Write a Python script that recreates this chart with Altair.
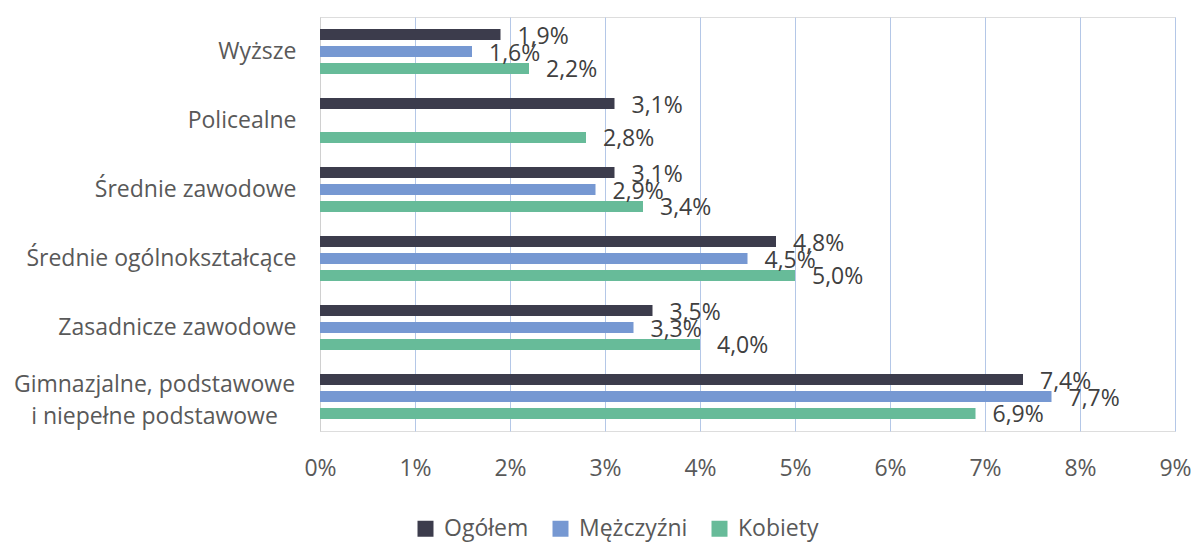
import altair as alt
import pandas as pd

categories = ["Wyższe", "Policealne", "Średnie zawodowe", "Średnie ogólnokształcące",
              "Zasadnicze zawodowe", "Gimnazjalne, podstawowe i niepełne podstawowe"]
series = ["Ogółem", "Mężczyźni", "Kobiety"]
ogolem = [1.9, 3.1, 3.1, 4.8, 3.5, 7.4]
mezczyzni = [1.6, None, 2.9, 4.5, 3.3, 7.7]
kobiety = [2.2, 2.8, 3.4, 5.0, 4.0, 6.9]
colors = ["#3c3c4c", "#7698d2", "#67bb99"]
x_ticks = list(range(0, 10))

rows = []
for s, vals in zip(series, [ogolem, mezczyzni, kobiety]):
    for c, v in zip(categories, vals):
        if v is not None:
            rows.append({"kategoria": c, "seria": s, "wartosc": v})
df = pd.DataFrame(rows)

FONT = "Open Sans"
FS = 23
LONG = categories[-1]
test_long = "datum.value == '" + LONG + "'"

y_enc = alt.Y("kategoria:N", sort=categories, title=None,
              scale=alt.Scale(paddingInner=0, paddingOuter=0),
              axis=alt.Axis(labelFontSize=FS, labelColor="#595959", labelFont=FONT,
                            ticks=False, domain=True, domainColor="#d0d0d0",
                            labelPadding={"condition": {"test": test_long, "value": 166}, "value": 24},
                            labelAlign={"condition": {"test": test_long, "value": "center"}, "value": "right"},
                            labelOffset={"condition": {"test": test_long, "value": -12}, "value": 0},
                            labelLimit=400,
                            labelExpr="datum.value == '" + LONG + "' ? ['Gimnazjalne, podstawowe', 'i niepełne podstawowe'] : datum.label",
                            labelLineHeight=32))
yoff = alt.YOffset("seria:N", sort=series,
                   scale=alt.Scale(paddingInner=0.353, paddingOuter=0.706))
x_enc = alt.X("wartosc:Q", title=None,
              scale=alt.Scale(domain=[0, 9], nice=False),
              axis=alt.Axis(values=x_ticks, labelExpr="datum.value + '%'",
                            labelFontSize=FS, labelColor="#595959", labelFont=FONT,
                            ticks=False, domain=False, labelPadding=26,
                            labelFlush=False, grid=True,
                            gridColor={"condition": {"test": "datum.value === 0", "value": "#d0d0d0"},
                                       "value": "#b4c7e7"},
                            gridWidth=1))

bars = alt.Chart(df).mark_bar(height=11).encode(
    y=y_enc, yOffset=yoff, x=x_enc,
    color=alt.Color("seria:N", sort=series, title=None,
                    scale=alt.Scale(domain=series, range=colors),
                    legend=alt.Legend(orient="none", legendX=94, legendY=500,
                                      direction="horizontal", symbolType="square",
                                      symbolSize=256, symbolStrokeWidth=0,
                                      labelFontSize=FS, labelColor="#595959",
                                      labelFont=FONT, columnPadding=20,
                                      symbolOffset=0, labelOffset=7)),
)

labels = alt.Chart(df).transform_calculate(
    txt="replace(format(datum.wartosc, '.1f'), '.', ',') + '%'"
).mark_text(align="left", baseline="middle", dx=17, dy=2, fontSize=FS,
            font=FONT, color="#404040").encode(
    y=alt.Y("kategoria:N", sort=categories), yOffset=yoff,
    x=alt.X("wartosc:Q"), text="txt:N")

chart = (bars + labels).properties(
    width=855, height=414,
    autosize=alt.AutoSizeParams(type="none"),
    padding={"left": 312, "top": 9, "right": 16, "bottom": 112},
).configure_view(stroke=None).configure(background="white")

chart.save("out.html", embed_options={"renderer": "svg", "actions": False})
